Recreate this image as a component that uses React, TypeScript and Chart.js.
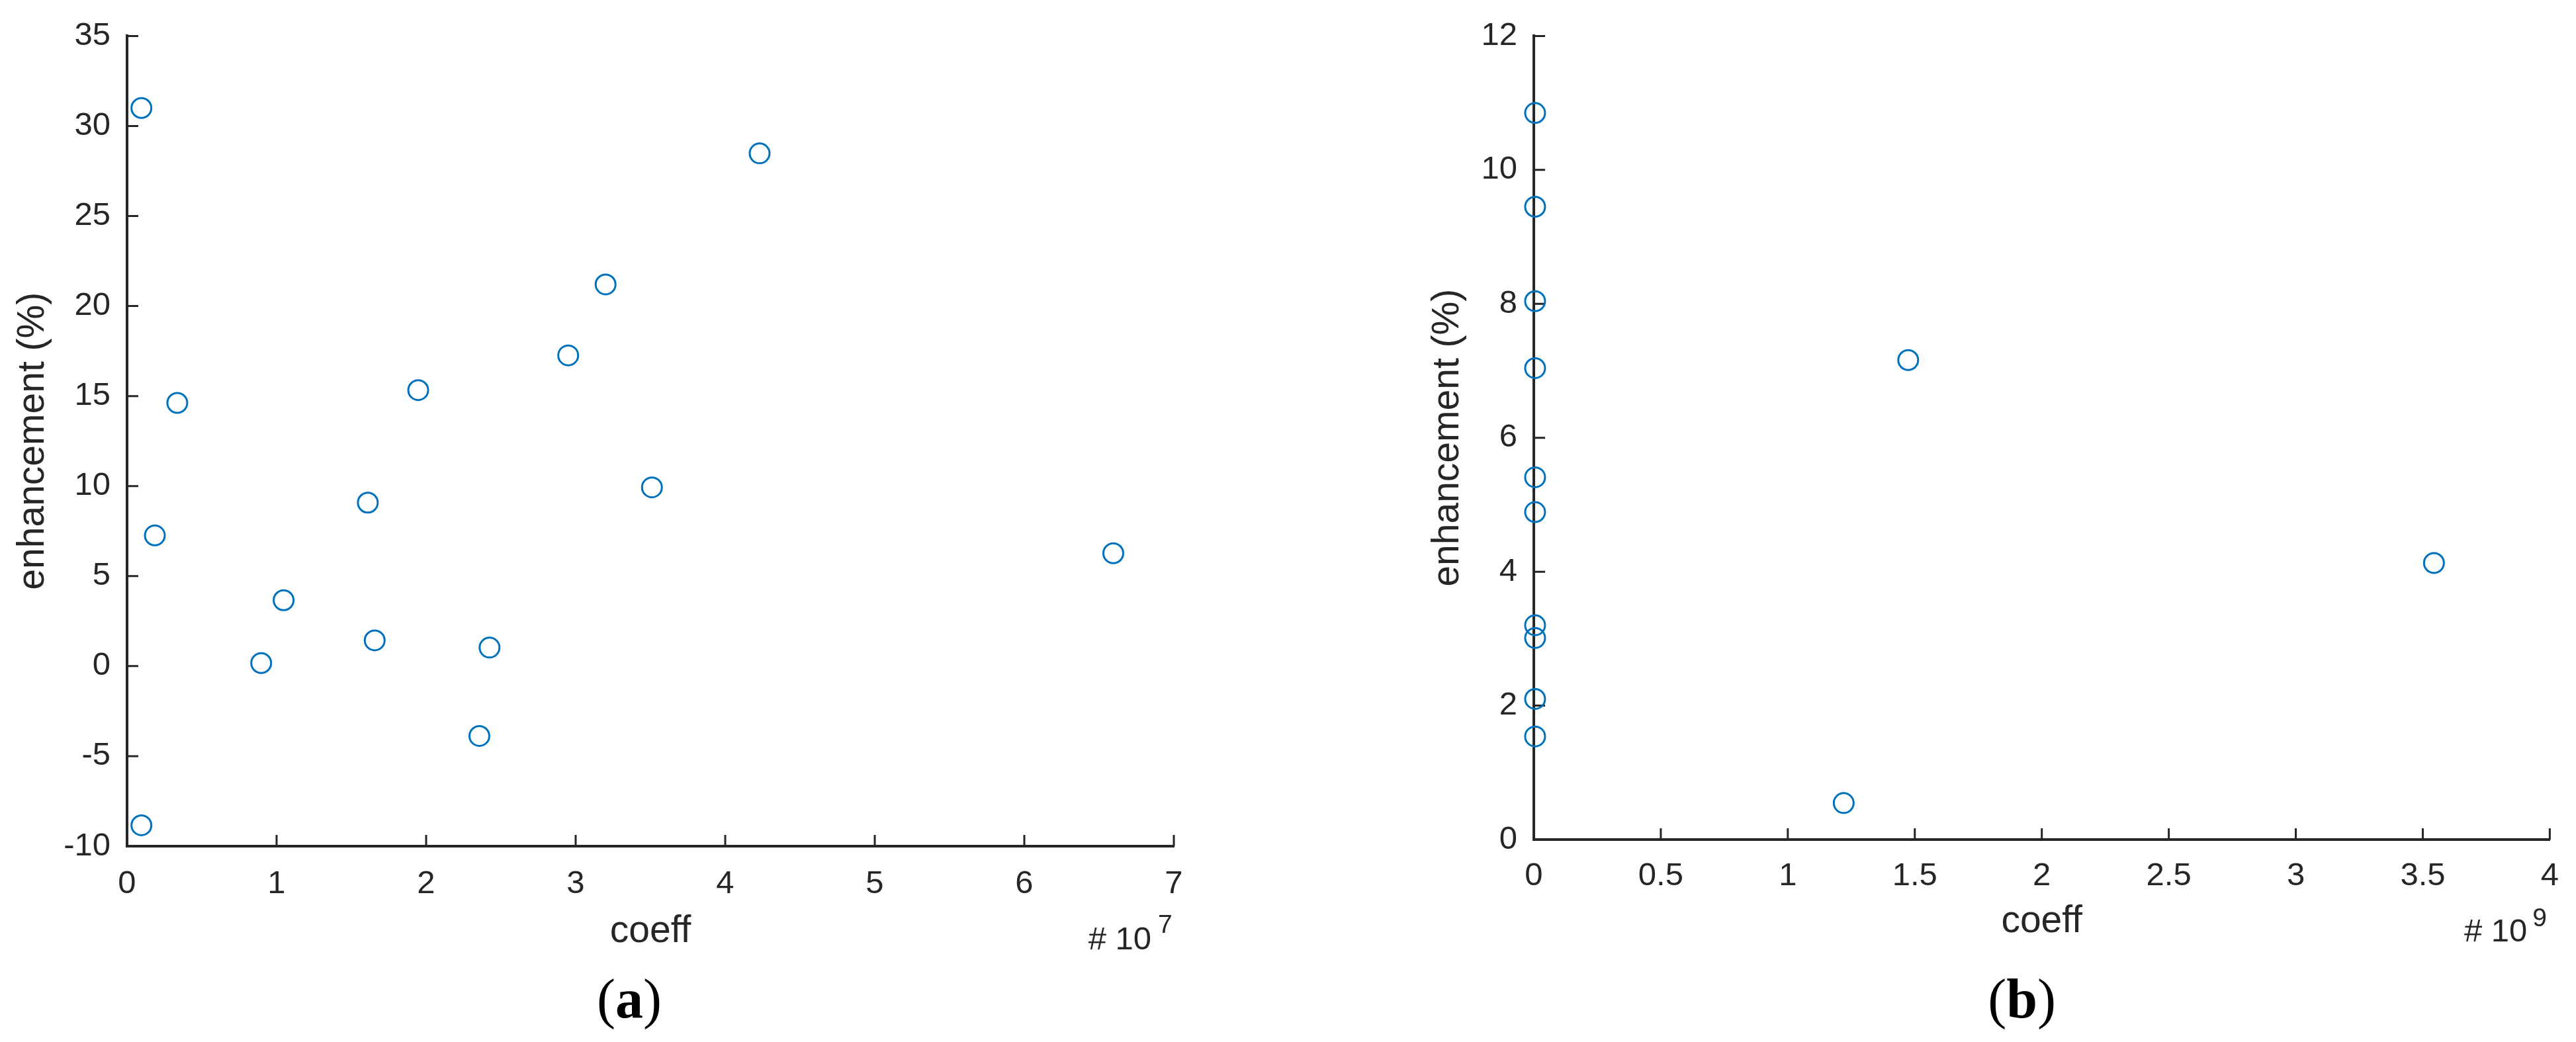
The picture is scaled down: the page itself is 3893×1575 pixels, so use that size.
import React, { useEffect, useRef } from "react";
import { Chart, registerables } from "chart.js";

Chart.register(...registerables);

// ---------- data ----------
// panel (a): coeff in units of 1e7
const coeffA = [0.096, 0.096, 0.186, 0.336, 0.897, 1.047, 1.61, 1.656, 1.947, 2.356, 2.424, 2.95, 3.2, 3.51, 4.23, 6.595];
const enhA = [31.0, -8.84, 7.26, 14.62, 0.17, 3.66, 9.08, 1.43, 15.33, -3.88, 1.03, 17.26, 21.2, 9.93, 28.48, 6.27];
// panel (b): coeff in units of 1e9
const coeffB = [0.005, 0.005, 0.005, 0.005, 0.005, 0.005, 0.005, 0.005, 0.005, 0.005, 1.22, 1.474, 3.544];
const enhB = [10.85, 9.45, 8.04, 7.04, 5.41, 4.89, 3.2, 3.01, 2.1, 1.54, 0.545, 7.16, 4.13];

const xRangeA = [0, 7, 1];
const yRangeA = [-10, 35, 5];
const xRangeB = [0, 4, 0.5];
const yRangeB = [0, 12, 2];

const xLabel = "coeff";
const yLabel = "enhancement (%)";
const expA = "7";
const expB = "9";
const panelA = "a";
const panelB = "b";

// ---------- style ----------
const AXIS = "rgb(38,38,38)";
const MARKER = "#0072BD";
const SANS = "'Liberation Sans', Arial, Helvetica, sans-serif";
const SERIF = "'Liberation Serif', 'Times New Roman', serif";
const TICK_FONT = 49;
const LABEL_FONT = 57;

type PanelCfg = {
  xs: number[];
  ys: number[];
  xr: number[];
  yr: number[];
  exp: string;
  panel: string;
  width: number;
  yAxisWidth: number;
  yTitlePad: number;
  padTop: number;
  padRight: number;
  xAxisHeight: number;
  xTickPad: number;
  xTitlePad: number;
  panelShift: number;
  expBase: number;
  supRise: number;
  supShift: number;
};

function makePlugin(cfg: PanelCfg) {
  return {
    id: "extras",
    beforeDatasetsDraw(chart: any) {
      const { ctx, chartArea, scales } = chart;
      const TL = 17;
      ctx.save();
      ctx.strokeStyle = AXIS;
      ctx.lineWidth = 3;
      ctx.beginPath();
      scales.x.ticks.forEach((t: any) => {
        const px = scales.x.getPixelForValue(t.value);
        ctx.moveTo(px, chartArea.bottom);
        ctx.lineTo(px, chartArea.bottom - TL);
      });
      scales.y.ticks.forEach((t: any) => {
        const py = scales.y.getPixelForValue(t.value);
        ctx.moveTo(chartArea.left, py);
        ctx.lineTo(chartArea.left + TL, py);
      });
      ctx.stroke();
      ctx.restore();
    },
    afterDraw(chart: any) {
      const { ctx, chartArea } = chart;
      ctx.save();
      ctx.fillStyle = AXIS;
      ctx.textBaseline = "alphabetic";
      const base = chartArea.bottom + cfg.expBase;
      ctx.font = `${TICK_FONT}px ${SANS}`;
      ctx.textAlign = "right";
      ctx.fillText("# 10", chartArea.right - 34, base);
      ctx.font = `39px ${SANS}`;
      ctx.textAlign = "left";
      ctx.fillText(cfg.exp, chartArea.right - cfg.supShift, base - cfg.supRise);
      // panel label "(a)" / "(b)"
      const cx = (chartArea.left + chartArea.right) / 2 + cfg.panelShift;
      ctx.fillStyle = "#000";
      ctx.font = `bold 84px ${SERIF}`;
      const wA = ctx.measureText(cfg.panel).width;
      ctx.font = `84px ${SERIF}`;
      const wP = ctx.measureText("(").width;
      const total = wA + 2 * wP;
      const x0 = cx - total / 2;
      ctx.textAlign = "left";
      ctx.fillText("(", x0, 1538);
      ctx.font = `bold 84px ${SERIF}`;
      ctx.fillText(cfg.panel, x0 + wP, 1538);
      ctx.font = `84px ${SERIF}`;
      ctx.fillText(")", x0 + wP + wA, 1538);
      ctx.restore();
    },
  };
}

function Panel({ cfg }: { cfg: PanelCfg }) {
  const ref = useRef<HTMLCanvasElement | null>(null);
  useEffect(() => {
    if (!ref.current) return;
    const data = cfg.xs.map((x, i) => ({ x, y: cfg.ys[i] }));
    const chart = new Chart(ref.current, {
      type: "scatter",
      data: {
        datasets: [
          {
            data,
            showLine: false,
            pointStyle: "circle",
            pointRadius: 15,
            pointHoverRadius: 15,
            pointBorderWidth: 3,
            pointBackgroundColor: "rgba(0,0,0,0)",
            pointBorderColor: MARKER,
            clip: false as any,
          },
        ],
      },
      options: {
        responsive: false,
        animation: false,
        events: [],
        layout: { padding: { left: 0, top: cfg.padTop, right: cfg.padRight, bottom: 0 } },
        plugins: { legend: { display: false }, tooltip: { enabled: false }, title: { display: false } },
        scales: {
          x: {
            type: "linear",
            min: cfg.xr[0],
            max: cfg.xr[1],
            grid: { display: false, drawTicks: false },
            border: { display: true, color: AXIS, width: 4 },
            ticks: {
              stepSize: cfg.xr[2],
              color: AXIS,
              font: { family: SANS, size: TICK_FONT },
              padding: cfg.xTickPad,
              maxRotation: 0,
              autoSkip: false,
              callback: (v: any) => String(Number(v)),
            },
            title: {
              display: true,
              text: xLabel,
              color: AXIS,
              font: { family: SANS, size: LABEL_FONT },
              padding: { top: 0, bottom: cfg.xTitlePad },
            },
            afterFit: (s: any) => {
              s.height = cfg.xAxisHeight;
            },
          },
          y: {
            type: "linear",
            min: cfg.yr[0],
            max: cfg.yr[1],
            grid: { display: false, drawTicks: false },
            border: { display: true, color: AXIS, width: 4 },
            ticks: {
              stepSize: cfg.yr[2],
              color: AXIS,
              font: { family: SANS, size: TICK_FONT },
              padding: 25,
              autoSkip: false,
              callback: (v: any) => String(Number(v)),
            },
            title: {
              display: true,
              text: yLabel,
              color: AXIS,
              font: { family: SANS, size: LABEL_FONT },
              padding: { top: cfg.yTitlePad, bottom: 0 },
            },
            afterFit: (s: any) => {
              s.width = cfg.yAxisWidth;
            },
          },
        },
      },
      plugins: [makePlugin(cfg)],
    } as any);
    return () => chart.destroy();
  }, [cfg]);
  return <canvas ref={ref} width={cfg.width} height={1575} style={{ display: "block", width: cfg.width, height: 1575 }} />;
}

const cfgA: PanelCfg = {
  xs: coeffA,
  ys: enhA,
  xr: xRangeA,
  yr: yRangeA,
  exp: expA,
  panel: panelA,
  width: 1900,
  yAxisWidth: 192,
  yTitlePad: 16,
  padTop: 37,
  padRight: 126,
  xAxisHeight: 1575 - 1279,
  xTickPad: 28,
  xTitlePad: 133,
  panelShift: -32,
  expBase: 156,
  supRise: 25,
  supShift: 24,
};

const cfgB: PanelCfg = {
  xs: coeffB,
  ys: enhB,
  xr: xRangeB,
  yr: yRangeB,
  exp: expB,
  panel: panelB,
  width: 1993,
  yAxisWidth: 418,
  yTitlePad: 254,
  padTop: 46,
  padRight: 21,
  xAxisHeight: 1575 - 1269,
  xTickPad: 26,
  xTitlePad: 148,
  panelShift: -30,
  expBase: 154,
  supRise: 23,
  supShift: 26,
};

export default function App() {
  return (
    <div style={{ position: "absolute", left: 0, top: 0, width: 3893, height: 1575, background: "#fff", display: "flex" }}>
      <Panel cfg={cfgA} />
      <Panel cfg={cfgB} />
    </div>
  );
}
